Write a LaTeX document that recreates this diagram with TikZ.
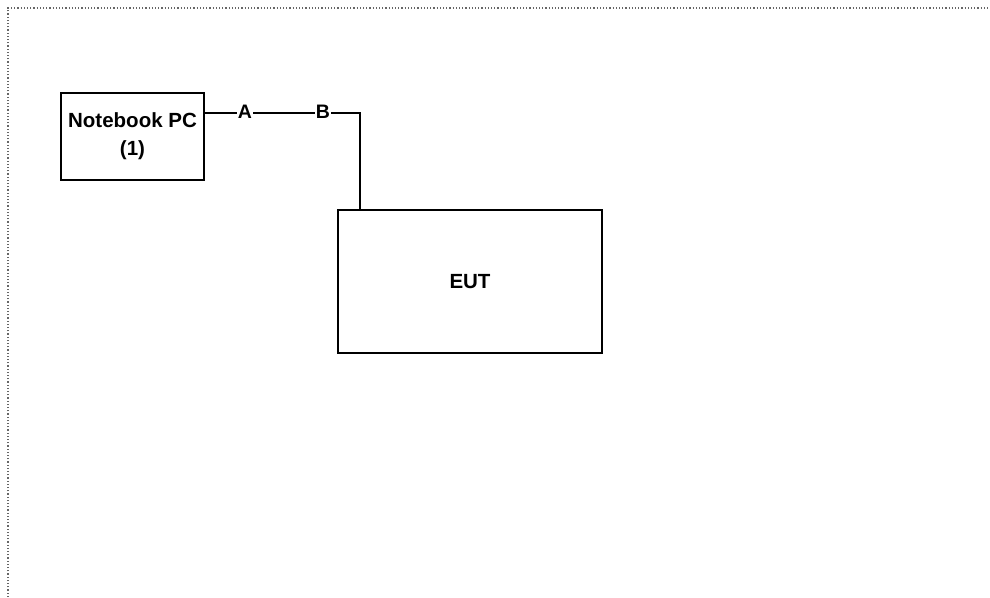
\documentclass[tikz,border=0pt]{standalone}
\usepackage{fontspec}
\setmainfont{Liberation Sans}
\begin{document}
\begin{tikzpicture}[x=1pt,y=-1pt,
  boxstyle/.style={draw=black, line width=1.5pt, fill=white, inner sep=0pt},
  lbl/.style={fill=white, inner sep=0.5pt, font=\bfseries\fontsize{19.5}{22}\selectfont},
  wire/.style={line width=1.2pt}]
\useasboundingbox (0,0) rectangle (990,597);
\draw[dotted, line width=1.2pt, gray!80!black] (8,597) -- (8,8) -- (990,8);
\node[boxstyle, minimum width=143pt, minimum height=87pt, align=center, font=\bfseries\fontsize{20.5}{28}\selectfont] (pc) at (132.5,136.5) {Notebook PC\\(1)};
\node[boxstyle, minimum width=264pt, minimum height=143pt, font=\bfseries\fontsize{20.5}{24}\selectfont] (eut) at (470,281.5) {EUT};
\coordinate (corner) at (360,113);
\draw[wire] (pc.east |- corner) -- (corner) -- (corner |- eut.north);
\node[lbl] (a) at (245,112) {A};
\node[lbl] (b) at (323,112) {B};
\end{tikzpicture}
\end{document}
